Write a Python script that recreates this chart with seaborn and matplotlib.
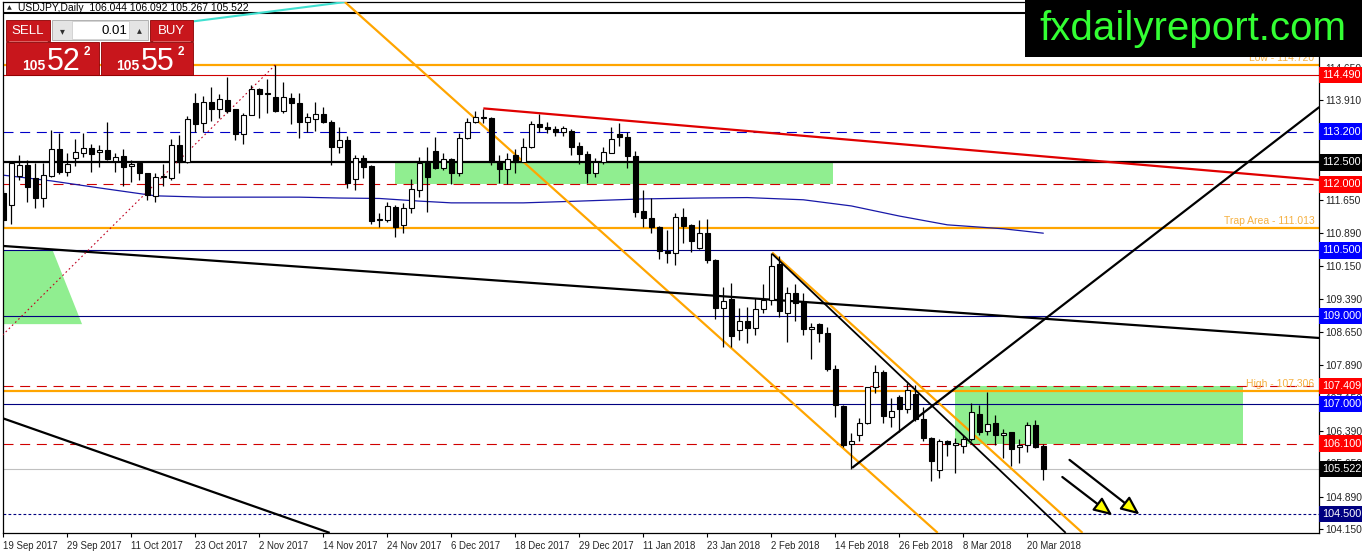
import pandas as pd
import matplotlib
matplotlib.use('Agg')
import matplotlib.pyplot as plt
import matplotlib.transforms as mtransforms
from matplotlib.patches import Rectangle, Polygon
import seaborn as sns

sns.set_style('white')
plt.rcParams['font.family'] = ['Liberation Sans', 'DejaVu Sans']

# daily bars, 19 Sep 2017 - 22 Mar 2018 (no bars on 25 Dec / 1 Jan)
dates = pd.bdate_range('2017-09-19', '2018-03-22')
dates = dates[~dates.isin(pd.to_datetime(['2017-12-25', '2018-01-01']))]

open_ = [111.80, 111.53, 112.18, 112.44, 112.14, 111.68, 112.20, 112.80, 112.29, 112.61,
         112.72, 112.82, 112.73, 112.78, 112.54, 112.65, 112.42, 112.48, 112.25, 111.74,
         112.16, 112.14, 112.89, 112.50, 113.85, 113.39, 113.87, 113.71, 113.92, 113.71,
         113.15, 113.59, 114.16, 114.06, 113.98, 113.66, 113.96, 113.86, 113.43, 113.48,
         113.60, 113.42, 112.84, 113.01, 112.12, 112.59, 112.42, 111.18, 111.18, 111.49,
         111.08, 111.46, 111.87, 112.48, 112.76, 112.37, 112.57, 112.25, 113.05, 113.43,
         113.51, 113.50, 112.50, 112.34, 112.67, 112.52, 112.84, 113.38, 113.30, 113.26,
         113.20, 113.22, 112.87, 112.69, 112.25, 112.50, 112.72, 113.15, 113.07, 112.65,
         111.40, 111.23, 111.04, 110.49, 110.43, 111.25, 111.08, 110.55, 110.89, 110.28,
         109.18, 109.39, 108.69, 108.90, 108.73, 109.16, 109.37, 110.19, 109.08, 109.54,
         109.33, 108.70, 108.82, 108.61, 107.79, 106.96, 106.09, 106.30, 106.56, 107.38,
         107.74, 106.71, 107.17, 106.90, 107.23, 106.65, 106.22, 105.50, 106.17, 106.08,
         106.05, 106.20, 106.78, 106.39, 106.58, 106.30, 106.37, 106.02, 106.07, 106.53,
         106.044]
high = [111.87, 112.52, 112.67, 112.56, 112.48, 112.48, 113.24, 113.18, 112.71, 113.03,
        113.18, 112.91, 112.90, 113.42, 112.71, 112.80, 112.56, 112.49, 112.27, 112.25,
        112.46, 113.03, 113.12, 113.56, 114.07, 114.01, 114.21, 114.06, 114.44, 113.72,
        113.63, 114.26, 114.19, 114.39, 114.72, 114.32, 114.07, 114.07, 113.62, 113.88,
        113.77, 113.47, 113.30, 113.10, 112.67, 112.67, 112.44, 111.34, 111.61, 111.53,
        111.57, 112.12, 112.63, 112.84, 113.07, 112.71, 112.59, 113.18, 113.50, 113.68,
        113.72, 113.53, 112.67, 112.71, 112.80, 113.05, 113.45, 113.60, 113.43, 113.33,
        113.33, 113.25, 112.97, 112.75, 112.59, 112.84, 113.31, 113.39, 113.19, 112.77,
        111.87, 111.68, 111.05, 110.96, 111.34, 111.46, 111.11, 111.19, 111.21, 110.30,
        109.67, 109.75, 109.18, 109.22, 109.41, 109.73, 110.45, 110.36, 109.66, 109.73,
        109.52, 108.85, 108.85, 108.75, 107.89, 106.98, 106.35, 106.68, 107.40, 107.89,
        107.78, 107.13, 107.21, 107.47, 107.44, 106.94, 106.26, 106.20, 106.18, 106.22,
        106.30, 107.03, 106.98, 107.28, 106.75, 106.43, 106.37, 106.20, 106.60, 106.64,
        106.092]
low = [111.04, 111.11, 112.10, 111.61, 111.46, 111.49, 112.16, 112.24, 112.18, 112.42,
       112.63, 112.29, 112.39, 112.56, 112.29, 111.96, 112.06, 112.09, 111.65, 111.61,
       111.96, 112.10, 112.27, 112.48, 113.20, 113.20, 113.45, 113.50, 113.62, 113.01,
       112.93, 113.57, 113.50, 113.62, 113.64, 113.63, 113.37, 113.06, 113.20, 113.22,
       113.39, 112.44, 112.71, 111.91, 111.87, 112.14, 111.11, 111.04, 111.15, 110.81,
       110.90, 111.34, 111.71, 111.38, 112.34, 112.33, 112.00, 112.19, 113.03, 113.39,
       113.39, 112.44, 112.04, 112.00, 112.27, 112.50, 112.82, 113.20, 113.18, 113.10,
       113.10, 112.67, 112.47, 112.04, 112.16, 112.47, 112.71, 112.87, 112.37, 111.25,
       111.04, 110.89, 110.30, 110.22, 110.17, 110.66, 110.47, 110.52, 110.22, 108.93,
       108.31, 108.29, 108.46, 108.40, 108.57, 109.07, 109.26, 108.99, 108.42, 108.90,
       108.57, 108.02, 108.42, 107.76, 106.71, 106.03, 105.52, 106.15, 106.55, 107.26,
       106.58, 106.49, 106.37, 106.79, 106.62, 106.15, 105.24, 105.31, 105.82, 105.44,
       105.88, 106.15, 106.30, 106.30, 106.07, 105.77, 105.59, 105.67, 105.92, 105.99,
       105.267]
close = [111.19, 112.48, 112.44, 111.95, 111.68, 112.21, 112.80, 112.29, 112.46, 112.73,
         112.82, 112.70, 112.78, 112.58, 112.63, 112.40, 112.46, 112.25, 111.76, 112.16,
         112.18, 112.89, 112.52, 113.48, 113.37, 113.87, 113.71, 113.94, 113.66, 113.15,
         113.59, 114.16, 114.05, 114.07, 113.66, 113.98, 113.85, 113.43, 113.53, 113.60,
         113.41, 112.84, 113.01, 112.04, 112.59, 112.40, 111.17, 111.21, 111.51, 111.04,
         111.46, 111.89, 112.48, 112.16, 112.37, 112.57, 112.25, 113.05, 113.43, 113.53,
         113.54, 112.50, 112.34, 112.57, 112.50, 112.84, 113.38, 113.30, 113.25, 113.20,
         113.28, 112.86, 112.69, 112.27, 112.50, 112.73, 113.03, 113.07, 112.65, 111.38,
         111.23, 111.04, 110.49, 110.43, 111.25, 111.05, 110.72, 110.89, 110.27, 109.18,
         109.35, 108.54, 108.90, 108.73, 109.16, 109.37, 110.14, 109.13, 109.54, 109.31,
         108.70, 108.75, 108.61, 107.79, 106.98, 106.07, 106.17, 106.56, 107.38, 107.74,
         106.73, 106.85, 106.90, 107.32, 106.65, 106.22, 105.71, 106.17, 106.09, 106.11,
         106.20, 106.81, 106.37, 106.55, 106.29, 106.35, 105.97, 106.07, 106.53, 106.02,
         105.522]

# moving average (blue curve), sampled at bar numbers
ma_bar = [0, 6, 12, 19, 25, 37, 42, 47, 52, 56, 65, 72, 80, 87, 93, 100, 106, 112, 118, 125, 130]
ma_val = [112.21, 112.08, 111.92, 111.74, 111.71, 111.71, 111.69, 111.68, 111.62, 111.58,
          111.58, 111.62, 111.67, 111.69, 111.70, 111.65, 111.51, 111.28, 111.08, 110.99, 110.89]

# horizontal levels: price, colour, style, width, label box colour (None = no box)
levels = [115.90, 114.72, 114.49, 113.20, 112.50, 112.00, 111.013, 110.50,
          109.00, 107.409, 107.306, 107.00, 106.10, 105.522, 104.50]
level_color = ['black', '#FFA500', '#D00000', '#0000C8', 'black', '#D00000', '#FFA500', '#000080',
               '#000080', '#D00000', '#FFA500', '#000080', '#D00000', '#C0C0C0', '#000080']
level_style = ['-', '-', '-', (0, (9, 6)), '-', (0, (9, 6)), '-', '-',
               '-', (0, (9, 6)), '-', '-', (0, (9, 6)), '-', (0, (2.5, 2))]
level_width = [1.5, 1.6, 0.8, 0.8, 1.6, 0.8, 1.6, 0.8, 0.8, 0.8, 1.6, 0.8, 0.8, 0.8, 0.8]
level_box = [None, None, '#FF0000', '#0000FF', 'black', '#FF0000', None, '#0000FF',
             '#0000FF', '#FF0000', None, '#0000FF', '#FF0000', 'black', '#000080']
level_note = {114.72: 'Low - 114.720', 111.013: 'Trap Area - 111.013', 107.306: 'High - 107.306'}

yticks = [114.650, 113.910, 113.170, 112.410, 111.650, 110.890, 110.150, 109.390,
          108.650, 107.890, 107.150, 106.390, 105.650, 104.890, 104.150]

# green zones (bar from, bar to, price low, price high)
zone_x0 = [49.0, 119.0]
zone_x1 = [103.7, 155.0]
zone_lo = [112.0, 106.1]
zone_hi = [112.5, 107.409]
left_zone = [(-0.1, 110.485), (6.2, 110.485), (9.84, 108.82), (-0.1, 108.82)]

# trend lines: (bar0, price0, bar1, price1)
trend_pts = [(23.3, 115.70, 42.7, 116.15),    # turquoise
             (42.7, 116.15, 116.8, 104.07),   # orange channel low
             (96.1, 110.45, 134.9, 104.07),   # orange channel high
             (96.1, 110.42, 132.8, 104.07),   # black channel
             (60.0, 113.73, 164.5, 112.10),   # red resistance
             (-0.1, 110.60, 164.5, 108.505),  # long black
             (-0.1, 106.68, 40.8, 104.07),    # lower left black
             (106.1, 105.55, 164.5, 113.76),  # rising black
             (-0.1, 108.57, 34.0, 114.72)]    # dotted
trend_color = ['#40E0D0', '#FFA500', '#FFA500', 'black', '#E00000', 'black', 'black', 'black', '#C00020']
trend_style = ['-', '-', '-', '-', '-', '-', '-', '-', (0, (1.5, 2.5))]
trend_width = [1.5, 1.6, 1.6, 1.3, 1.6, 1.6, 1.6, 1.6, 0.8]

arrows = [(133.0, 105.77, 142.3, 104.45), (132.1, 105.38, 138.9, 104.43)]

W, H = 1362, 554
fig = plt.figure(figsize=(W / 100, H / 100), dpi=100)
ax = fig.add_axes([3 / W, 21 / H, 1316 / W, 531 / H])
ax.set_xlim(-0.04, 164.46)
ax.set_ylim(104.067, 116.151)

# zones
ax.add_patch(Polygon(left_zone, closed=True, fc='#90EE90', ec='none', zorder=1))
for x0, x1, lo, hi in zip(zone_x0, zone_x1, zone_lo, zone_hi):
    ax.add_patch(Rectangle((x0, lo), x1 - x0, hi - lo, fc='#90EE90', ec='none', zorder=1))

# horizontal levels
for p, c, s, w in zip(levels, level_color, level_style, level_width):
    ax.axhline(p, color=c, ls=s, lw=w, zorder=2)
for p, txt in level_note.items():
    ax.text(163.9, p + 0.04, txt, color='#F5B041', fontsize=7.5, ha='right', va='bottom', zorder=2)

# trend lines
for (x0, y0, x1, y1), c, s, w in zip(trend_pts, trend_color, trend_style, trend_width):
    ax.plot([x0, x1], [y0, y1], color=c, ls=s, lw=w, zorder=3, solid_capstyle='butt')

# moving average
sns.lineplot(x=ma_bar, y=ma_val, color='#1818A8', lw=0.9, ax=ax, zorder=2)

# candles
df = pd.DataFrame({'o': open_, 'h': high, 'l': low, 'c': close})
df['x'] = range(len(df))
up = df['c'] >= df['o']
ax.vlines(df['x'], df['l'], df['h'], color='black', lw=0.9, zorder=4)
body_lo = df[['o', 'c']].min(axis=1)
body_h = (df['c'] - df['o']).abs().clip(lower=0.02)
ax.bar(df['x'][up], body_h[up], bottom=body_lo[up], width=0.62, color='white',
       edgecolor='black', lw=0.8, zorder=5)
ax.bar(df['x'][~up], body_h[~up], bottom=body_lo[~up], width=0.62, color='black',
       edgecolor='black', lw=0.8, zorder=5)

# arrows
for x0, y0, x1, y1 in arrows:
    ax.annotate('', xy=(x1, y1), xytext=(x0, y0),
                arrowprops=dict(arrowstyle='-|>,head_length=0.8,head_width=0.35',
                                mutation_scale=14, fc='#FFFF00', ec='black', lw=1.6),
                zorder=6)

# axes
ax.yaxis.tick_right()
ax.set_yticks(yticks)
ax.set_yticklabels([f'{v:.3f}' for v in yticks])
date_pos = list(range(0, len(dates), 8))
ax.set_xticks(date_pos)
ax.set_xticklabels([f'{dates[i].day} {dates[i]:%b %Y}' for i in date_pos])
for lab in ax.get_xticklabels():
    lab.set_ha('left')
ax.tick_params(axis='both', which='both', length=3, width=0.8, color='black',
               direction='out', bottom=True, right=True, left=False)
ax.tick_params(axis='y', labelsize=7.4, pad=1.5)
ax.tick_params(axis='x', labelsize=6.9, pad=3)
for sp in ax.spines.values():
    sp.set_color('black')
    sp.set_linewidth(0.9)
ax.set_xlabel('')
ax.set_ylabel('')
ax.grid(False)

# price boxes on the right scale (they sit over the tick labels, as in the terminal)
trans = mtransforms.blended_transform_factory(ax.transAxes, ax.transData)
for p, bc in zip(levels, level_box):
    if bc is None:
        continue
    ax.text(1.0025, p, f'{p:.3f}', transform=trans, color='white', fontsize=7.8,
            ha='left', va='center', clip_on=False, zorder=10,
            bbox=dict(boxstyle='square,pad=0.3', fc=bc, ec='none'))

# terminal widgets drawn in pixel coordinates
ui = fig.add_axes([0, 0, 1, 1], zorder=20)
ui.set_xlim(0, W)
ui.set_ylim(H, 0)
ui.set_facecolor('none')
ui.axis('off')

ui.text(9, 8, '\u25B2', fontsize=4.5, ha='center', va='center', family='DejaVu Sans')
ui.text(18, 8, 'USDJPY,Daily  106.044 106.092 105.267 105.522', fontsize=7.5,
        ha='left', va='center', color='black')

red = '#C8161C'
ui.add_patch(Rectangle((6, 20), 44, 21, fc=red, ec='#8A0000', lw=0.6))
ui.add_patch(Rectangle((150, 20), 43, 21, fc=red, ec='#8A0000', lw=0.6))
ui.add_patch(Rectangle((6, 42), 93, 33, fc=red, ec='#8A0000', lw=0.6))
ui.add_patch(Rectangle((101, 42), 92, 33, fc=red, ec='#8A0000', lw=0.6))
ui.plot([9, 47], [40.5, 40.5], color='#E87070', lw=0.6)
ui.plot([153, 190], [40.5, 40.5], color='#E87070', lw=0.6)
ui.add_patch(Rectangle((52, 20), 96, 20, fc='#E4E4E4', ec='#A8A8A8', lw=0.6))
ui.add_patch(Rectangle((72, 21), 57, 18, fc='white', ec='#C8C8C8', lw=0.5))
ui.text(28, 31, 'SELL', color='white', fontsize=9.5, ha='center', va='center')
ui.text(171.5, 31, 'BUY', color='white', fontsize=9.5, ha='center', va='center')
ui.text(127, 30.5, '0.01', color='black', fontsize=9.5, ha='right', va='center')
ui.text(62, 31, '\u25BE', color='#303030', fontsize=7, ha='center', va='center', family='DejaVu Sans')
ui.text(139, 30, '\u25B4', color='#303030', fontsize=7, ha='center', va='center', family='DejaVu Sans')
for x0, big in [(22, '52'), (116, '55')]:
    ui.text(x0, 70, '105', color='white', fontsize=10, fontweight='bold', ha='left', va='baseline')
    ui.text(x0 + 25, 70, big, color='white', fontsize=22, ha='left', va='baseline')
    ui.text(x0 + 62, 55, '2', color='white', fontsize=8.5, fontweight='bold', ha='left', va='baseline')

ui.add_patch(Rectangle((1025, 0), W - 1025, 57, fc='black', ec='none'))
ui.text(1193, 29, 'fxdailyreport.com', color='#33FF33', fontsize=29, ha='center', va='center')

fig.savefig('out.png', dpi=100)
